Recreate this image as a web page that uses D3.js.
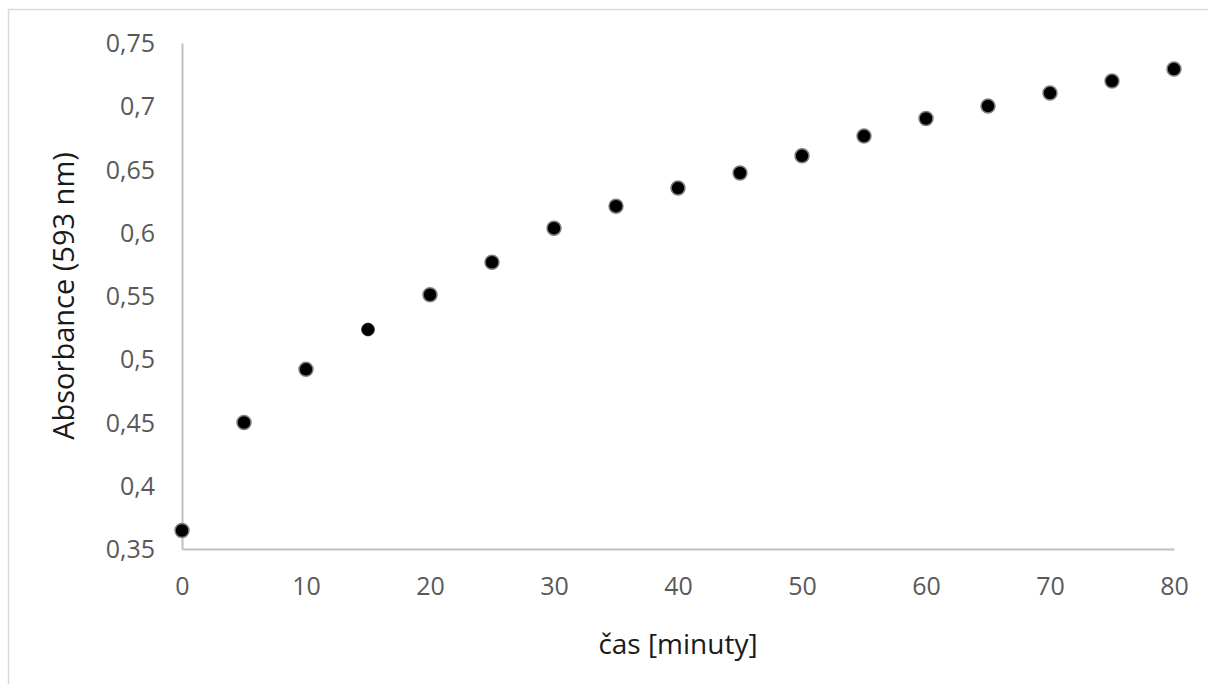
<!DOCTYPE html>
<html>
<head>
<meta charset="utf-8">
<script src="https://cdn.jsdelivr.net/npm/d3@7"></script>
<style>
  body { margin: 0; background: #fff; }
  svg { display: block; }
</style>
</head>
<body>
<script>
    const width = 1208;
    const height = 684;

    // time in minutes and measured absorbance at 593 nm
    const times = [0, 5, 10, 15, 20, 25, 30, 35, 40, 45, 50, 55, 60, 65, 70, 75, 80];
    const absorbance = [0.3646, 0.450, 0.492, 0.5235, 0.551, 0.5767, 0.6036, 0.621, 0.6353,
        0.6472, 0.6608, 0.6764, 0.6903, 0.7001, 0.7104, 0.7199, 0.7294];
    const xTicks = [0, 10, 20, 30, 40, 50, 60, 70, 80];
    const yTicks = [0.35, 0.4, 0.45, 0.5, 0.55, 0.6, 0.65, 0.7, 0.75];

    const margin = {left: 182, right: 34, top: 43, bottom: 135};
    const font = "'Open Sans', sans-serif";

    const svg = d3.select("body").append("svg")
        .attr("width", width)
        .attr("height", height);

    // chart border (only top and left visible inside the frame)
    svg.append("rect")
        .attr("x", 8.5).attr("y", 9.5)
        .attr("width", 1250).attr("height", 700)
        .attr("fill", "none")
        .attr("stroke", "#d9d9d9")
        .attr("stroke-width", 1.5);

    const x = d3.scaleLinear().domain([0, 80]).range([margin.left, width - margin.right]);
    const y = d3.scaleLinear().domain([0.35, 0.75]).range([height - margin.bottom, margin.top]);

    const fmt = d => d3.format("~g")(d).replace(".", ",");

    const xAxis = svg.append("g")
        .attr("transform", `translate(0,${y(0.35)})`)
        .call(d3.axisBottom(x).tickValues(xTicks).tickSize(0).tickPadding(29).tickFormat(d3.format("d")));
    const yAxis = svg.append("g")
        .attr("transform", `translate(${x(0)},0)`)
        .call(d3.axisLeft(y).tickValues(yTicks).tickSize(0).tickPadding(27).tickFormat(fmt));

    [xAxis, yAxis].forEach(a => {
        a.select(".domain").attr("stroke", "#bfbfbf").attr("stroke-width", 2);
        a.selectAll("text")
            .attr("fill", "#595959")
            .style("font-family", font)
            .style("font-size", "25px");
    });
    yAxis.selectAll("text").attr("dy", "0.34em");
    xAxis.selectAll("text").attr("dy", "0.66em");

    svg.append("text")
        .attr("x", (x(0) + x(80)) / 2)
        .attr("y", 654)
        .attr("text-anchor", "middle")
        .attr("fill", "#1a1a1a")
        .style("font-family", font)
        .style("font-size", "28px")
        .text("čas [minuty]");

    svg.append("text")
        .attr("transform", `translate(74,${(y(0.35) + y(0.75)) / 2}) rotate(-90)`)
        .attr("text-anchor", "middle")
        .attr("fill", "#1a1a1a")
        .style("font-family", font)
        .style("font-size", "29px")
        .text("Absorbance (593 nm)");

    svg.append("g")
        .selectAll("circle")
        .data(times.map((t, i) => ({t, a: absorbance[i]})))
        .join("circle")
        .attr("cx", d => x(d.t))
        .attr("cy", d => y(d.a))
        .attr("r", d => d.t === 15 ? 6.5 : 7)
        .attr("fill", "#000")
        .attr("stroke", d => d.t === 15 ? "#000" : "#7f7f7f")
        .attr("stroke-width", d => d.t === 15 ? 0.5 : 1.5);
</script>
</body>
</html>
